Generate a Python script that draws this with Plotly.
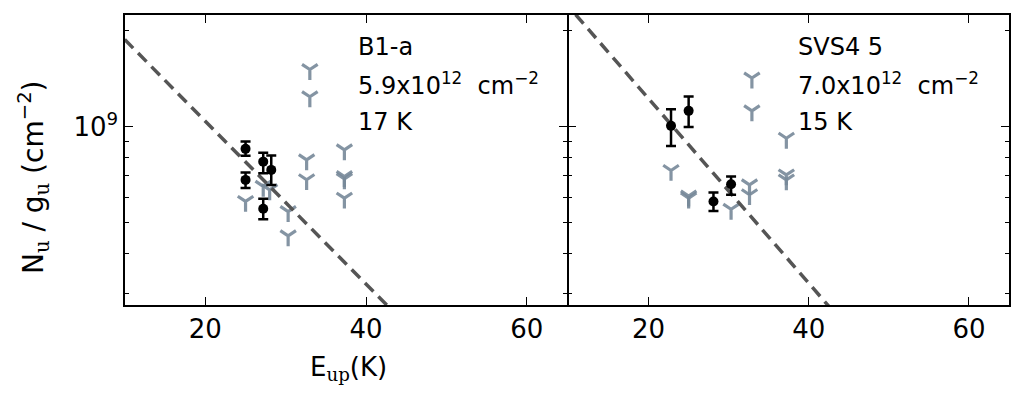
import numpy as np
import plotly.graph_objects as go

# ---------------- data ----------------
# B1-a panel
b1_det_E = [25.0, 25.0, 27.2, 28.2, 27.2]
b1_det_N = [8.51e8, 6.80e8, 7.76e8, 7.31e8, 5.52e8]
b1_err_plus = [0.46e8, 0.38e8, 0.52e8, 0.80e8, 0.41e8]
b1_err_minus = [0.42e8, 0.39e8, 0.62e8, 0.75e8, 0.40e8]
b1_lim_E = [33.0, 33.0, 25.0, 27.2, 28.0, 30.3, 30.3, 32.6, 32.6, 37.3, 37.3, 37.3, 37.3]
b1_lim_N = [1.51e9, 1.24e9, 5.82e8, 6.49e8, 6.33e8, 5.41e8, 4.54e8,
            7.86e8, 6.81e8, 8.45e8, 6.97e8, 6.85e8, 5.96e8]
b1_T = 17.0
b1_logN0 = 9.272   # log10(N/g) of the fit at E = 10 K

# SVS4 5 panel
svs_det_E = [22.8, 25.0, 28.1, 30.3]
svs_det_N = [1.005e9, 1.12e9, 5.82e8, 6.59e8]
svs_err_plus = [1.29e8, 1.22e8, 0.39e8, 0.38e8]
svs_err_minus = [1.36e8, 1.24e8, 0.39e8, 0.48e8]
svs_lim_E = [32.9, 32.9, 22.8, 25.0, 25.0, 30.3, 32.6, 32.6, 37.2, 37.2, 37.2]
svs_lim_N = [1.42e9, 1.12e9, 7.28e8, 6.05e8, 5.96e8, 5.50e8, 6.56e8, 6.11e8,
             9.19e8, 7.05e8, 6.80e8]
svs_T = 15.0
svs_logN0 = 9.377

panel_names = ["B1-a", "SVS4 5"]
panel_cols = ["5.9x10<sup>12</sup>  cm<sup>\u22122</sup>", "7.0x10<sup>12</sup>  cm<sup>\u22122</sup>"]
panel_temps = ["17 K", "15 K"]

x_ticks = [20, 40, 60]
y_major = [1e9]
y_major_text = ["10<sup>9</sup>"]
y_minor = [3e8, 4e8, 5e8, 6e8, 7e8, 8e8, 9e8, 2e9]

FONT = "DejaVu Sans"
GRAY = "rgba(119,136,153,0.9)"

fig = go.Figure()

dom_x = [[125 / 1024, 567 / 1024], [568.5 / 1024, 1009 / 1024]]
dom_y = [1 - 305 / 404, 1 - 15 / 404]

panels = [
    (b1_det_E, b1_det_N, b1_err_plus, b1_err_minus, b1_lim_E, b1_lim_N, b1_T, b1_logN0),
    (svs_det_E, svs_det_N, svs_err_plus, svs_err_minus, svs_lim_E, svs_lim_N, svs_T, svs_logN0),
]

for i, (dE, dN, ep, em, lE, lN, T, logN0) in enumerate(panels):
    xa = "x" if i == 0 else "x2"
    ya = "y" if i == 0 else "y2"
    fig.add_trace(go.Scatter(
        x=lE, y=lN, mode="markers", xaxis=xa, yaxis=ya, showlegend=False,
        marker=dict(symbol="y-down", size=13, color=GRAY,
                    line=dict(color=GRAY, width=3.2)),
    ))
    E_fit = np.array([0.0, 80.0])
    N_fit = 10 ** (logN0 - (E_fit - 10.0) / (T * np.log(10)))
    fig.add_trace(go.Scatter(
        x=E_fit, y=N_fit, mode="lines", xaxis=xa, yaxis=ya, showlegend=False,
        line=dict(color="#555555", width=3.5, dash="12px,7px"),
    ))
    fig.add_trace(go.Scatter(
        x=dE, y=dN, mode="markers", xaxis=xa, yaxis=ya, showlegend=False,
        marker=dict(symbol="circle", size=10, color="black"),
        error_y=dict(type="data", array=ep, arrayminus=em, symmetric=False,
                     color="black", thickness=2.5, width=5),
    ))

axis_common = dict(
    showline=True, linecolor="black", linewidth=1.5, mirror="ticks",
    ticks="inside", ticklen=8, tickwidth=1.2, tickcolor="black",
    showgrid=False, zeroline=False,
    tickfont=dict(family=FONT, size=26, color="black"),
)

for i in range(2):
    xkey = "xaxis" if i == 0 else "xaxis2"
    ykey = "yaxis" if i == 0 else "yaxis2"
    fig.update_layout(**{
        xkey: dict(axis_common, domain=dom_x[i], range=[10, 65],
                   tickmode="array", tickvals=x_ticks,
                   anchor="y" if i == 0 else "y2"),
        ykey: dict(axis_common, domain=dom_y, type="log",
                   range=[8.44, 9.35], tickmode="array",
                   tickvals=y_major, ticktext=y_major_text,
                   showticklabels=(i == 0),
                   minor=dict(tickmode="array", tickvals=y_minor, ticks="inside",
                              ticklen=4, tickwidth=1.0, tickcolor="black"),
                   anchor="x" if i == 0 else "x2"),
    })

annos = []
text_x = [356 / 1024, 796 / 1024]
for i in range(2):
    for txt, ypx in [(panel_names[i], 47), (panel_cols[i], 84), (panel_temps[i], 122)]:
        annos.append(dict(
            text=txt, x=text_x[i], y=1 - ypx / 404, xref="paper", yref="paper",
            xanchor="left", yanchor="middle", showarrow=False,
            font=dict(family=FONT, size=24, color="black"),
        ))

SER = "<span style=\"font-family:'DejaVu Serif'\">"
annos.append(dict(
    text="N" + "<sub>" + SER + "u</span></sub> / g<sub>" + SER + "u</span></sub> (cm<sup>\u22122</sup>)",
    x=34 / 1024, y=1 - 177 / 404, xref="paper", yref="paper",
    xanchor="center", yanchor="middle", textangle=-90, showarrow=False,
    font=dict(family=FONT, size=28, color="black"),
))
annos.append(dict(
    text="E<sub>" + SER + "up</span></sub>(K)",
    x=348 / 1024, y=1 - 368 / 404, xref="paper", yref="paper",
    xanchor="center", yanchor="middle", showarrow=False,
    font=dict(family=FONT, size=26, color="black"),
))

fig.update_layout(
    width=1024, height=404,
    margin=dict(l=0, r=0, t=0, b=0),
    paper_bgcolor="white", plot_bgcolor="white",
    annotations=annos,
)

fig.write_html("out.html")
